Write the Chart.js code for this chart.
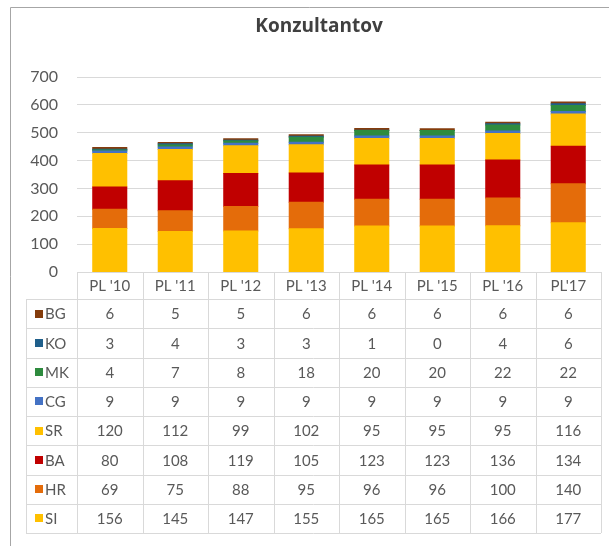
<!DOCTYPE html>
<html>
<head>
<meta charset="utf-8">
<script src="https://cdn.jsdelivr.net/npm/chart.js@4.4.1/dist/chart.umd.min.js"></script>
<style>
  html, body { margin: 0; padding: 0; background: #fff; }
  #wrap { width: 609px; height: 546px; position: relative; }
</style>
</head>
<body>
<div id="wrap"><canvas id="konzChart" width="609" height="546"></canvas></div>
<script>
const categories = ["PL '10", "PL '11", "PL '12", "PL '13", "PL '14", "PL '15", "PL '16", "PL'17"];
const si = [156, 145, 147, 155, 165, 165, 166, 177];
const hr = [69, 75, 88, 95, 96, 96, 100, 140];
const ba = [80, 108, 119, 105, 123, 123, 136, 134];
const sr = [120, 112, 99, 102, 95, 95, 95, 116];
const cg = [9, 9, 9, 9, 9, 9, 9, 9];
const mk = [4, 7, 8, 18, 20, 20, 22, 22];
const ko = [3, 4, 3, 3, 1, 0, 4, 6];
const bg = [6, 5, 5, 6, 6, 6, 6, 6];
const yTicks = [0, 100, 200, 300, 400, 500, 600, 700];

const textColor = "#595959";
const lineColor = "#d9d9d9";
const fontName = "Lato, 'Open Sans', sans-serif";

// bottom to top of the stack
const seriesList = [
    { label: "SI", data: si, color: "#ffc000" },
    { label: "HR", data: hr, color: "#e46c0a" },
    { label: "BA", data: ba, color: "#c00000" },
    { label: "SR", data: sr, color: "#ffc000" },
    { label: "CG", data: cg, color: "#4472c4" },
    { label: "MK", data: mk, color: "#2e8b3e" },
    { label: "KO", data: ko, color: "#1f5f8b" },
    { label: "BG", data: bg, color: "#843c0c" }
];

const tableTop = 299;
const rowHeight = 29.25;
const tableLeft = 26;

// draws title, frame and the data table under the bars
const dataTablePlugin = {
    id: "dataTable",
    afterDraw(chart) {
        const ctx = chart.ctx;
        const area = chart.chartArea;
        const xScale = chart.scales.x;
        const colWidth = (area.right - area.left) / categories.length;

        ctx.save();
        // outer frame
        ctx.strokeStyle = "#a6a6a6";
        ctx.lineWidth = 1;
        ctx.beginPath();
        ctx.moveTo(10.5, 546);
        ctx.lineTo(10.5, 7.5);
        ctx.lineTo(609, 7.5);
        ctx.stroke();

        // title
        ctx.fillStyle = "#404040";
        ctx.font = "bold 19px 'Open Sans', sans-serif";
        ctx.textAlign = "center";
        ctx.textBaseline = "middle";
        ctx.fillText("Konzultantov", 319, 27);

        // table lines
        ctx.strokeStyle = lineColor;
        ctx.beginPath();
        // header row
        ctx.moveTo(area.left, area.bottom + 0.5);
        ctx.lineTo(area.right, area.bottom + 0.5);
        for (let i = 0; i <= categories.length; i++) {
            const x = Math.round(area.left + i * colWidth) + 0.5;
            ctx.moveTo(x, area.bottom);
            ctx.lineTo(x, tableTop + rowHeight * seriesList.length);
        }
        for (let r = 0; r <= seriesList.length; r++) {
            const y = Math.round(tableTop + r * rowHeight) + 0.5;
            ctx.moveTo(tableLeft, y);
            ctx.lineTo(area.right, y);
        }
        ctx.moveTo(tableLeft + 0.5, tableTop);
        ctx.lineTo(tableLeft + 0.5, tableTop + rowHeight * seriesList.length);
        ctx.stroke();

        // category labels
        ctx.font = "15px " + fontName;
        ctx.fillStyle = textColor;
        categories.forEach((cat, i) => {
            ctx.fillText(cat, xScale.getPixelForValue(i), (area.bottom + tableTop) / 2 + 1);
        });

        // rows, top row is the last series
        const rows = seriesList.slice().reverse();
        rows.forEach((s, r) => {
            const yMid = tableTop + r * rowHeight + rowHeight / 2 + 1;
            ctx.fillStyle = s.color;
            ctx.fillRect(35, Math.round(yMid - 5), 8, 8);
            ctx.fillStyle = textColor;
            ctx.textAlign = "left";
            ctx.fillText(s.label, 45, yMid);
            ctx.textAlign = "center";
            s.data.forEach((v, i) => {
                ctx.fillText(String(v), xScale.getPixelForValue(i), yMid);
            });
        });
        ctx.restore();
    }
};

const ctx = document.getElementById("konzChart").getContext("2d");
const chartObject = new Chart(ctx, {
    type: "bar",
    data: {
        labels: categories,
        datasets: seriesList.map(s => ({
            label: s.label,
            data: s.data,
            backgroundColor: s.color,
            borderWidth: 0,
            inflateAmount: 0.5,
            barPercentage: 0.52,
            categoryPercentage: 1
        }))
    },
    options: {
        responsive: false,
        animation: false,
        layout: { padding: { left: 0, right: 8, top: 77, bottom: 274 } },
        plugins: {
            legend: { display: false },
            title: { display: false },
            tooltip: { enabled: false }
        },
        scales: {
            x: {
                stacked: true,
                display: false
            },
            y: {
                stacked: true,
                min: 0,
                max: 700,
                afterFit: function (scale) { scale.width = 77; },
                afterBuildTicks: function (scale) { scale.ticks = yTicks.map(v => ({ value: v })); },
                border: { display: false },
                grid: { color: lineColor, drawTicks: false },
                ticks: {
                    padding: 19,
                    color: textColor,
                    font: { family: fontName, size: 16 }
                }
            }
        }
    },
    plugins: [dataTablePlugin]
});
</script>
</body>
</html>
